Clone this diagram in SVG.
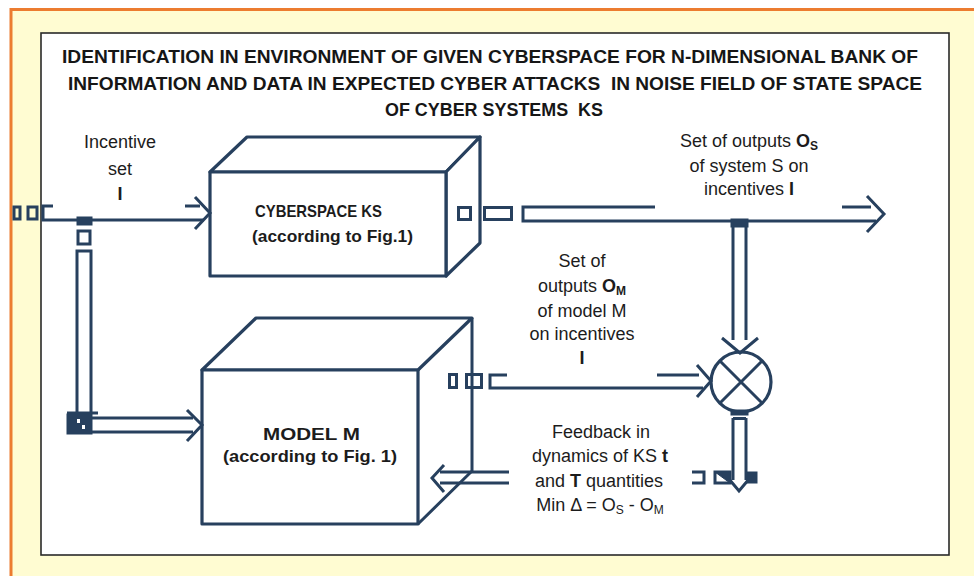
<svg xmlns="http://www.w3.org/2000/svg" width="974" height="576" viewBox="0 0 974 576">
<style>
.s{fill:none;stroke:#27405E;stroke-width:3;stroke-linejoin:miter}
.f{fill:#27405E;stroke:#27405E;stroke-width:1}
.box{fill:#fff;stroke:#27405E;stroke-width:3.2;stroke-linejoin:round}
.t{font-family:"Liberation Sans",Arial,sans-serif;font-size:18px;fill:#1c1c1c}
.b{font-weight:bold}
.c{text-anchor:middle}
.ttl{font-family:"Liberation Sans",Arial,sans-serif;font-size:18px;font-weight:bold;fill:#161616;text-anchor:middle}
.bl{font-family:"Liberation Sans",Arial,sans-serif;font-size:17px;font-weight:bold;fill:#1c1c1c}
</style>
<rect x="0" y="0" width="974" height="576" fill="#fff"/>
<rect x="11" y="9.5" width="990" height="600" fill="#FFFCD2" stroke="#EC7C30" stroke-width="3"/>
<rect x="41" y="33" width="908" height="522" fill="#fff" stroke="#2a2a2a" stroke-width="1.6"/>

<g id="title">
<text class="ttl" x="490" y="63" textLength="856" lengthAdjust="spacingAndGlyphs">IDENTIFICATION IN ENVIRONMENT OF GIVEN CYBERSPACE FOR N-DIMENSIONAL BANK OF</text>
<text class="ttl" x="495" y="90" textLength="854" lengthAdjust="spacingAndGlyphs">INFORMATION AND DATA IN EXPECTED CYBER ATTACKS&#160; IN NOISE FIELD OF STATE SPACE</text>
<text class="ttl" x="494" y="116" textLength="218" lengthAdjust="spacingAndGlyphs">OF CYBER SYSTEMS&#160; KS</text>
</g>

<g id="cyberspace">
<path class="box" d="M210,172 L247,137 L480,137 L446,172 Z"/>
<path class="box" d="M446,172 L480,137 L480,243 L446,276 Z"/>
<rect class="box" x="210" y="172" width="236" height="104"/>
<text class="bl" x="255" y="217" textLength="127" lengthAdjust="spacingAndGlyphs">CYBERSPACE KS</text>
<text class="bl" x="252" y="242" textLength="161" lengthAdjust="spacingAndGlyphs">(according to Fig.1)</text>
</g>

<g id="model">
<path class="box" d="M202,370 L256,318 L472,318 L418,370 Z"/>
<rect class="box" x="202" y="370" width="216" height="154"/>
<text class="bl" x="263" y="440" textLength="97" lengthAdjust="spacingAndGlyphs">MODEL M</text>
<text class="bl" x="223" y="462" textLength="174" lengthAdjust="spacingAndGlyphs">(according to Fig. 1)</text>
</g>

<g id="comparator">
<circle cx="741" cy="382" r="30" fill="#fff" stroke="#27405E" stroke-width="3.2"/>
<path class="s" d="M720,361 L762,403 M762,361 L720,403"/>
</g>

<g id="connectors">
<!-- input incentive arrow -->
<rect class="s" x="14" y="207" width="6" height="12"/>
<rect class="s" x="28" y="207" width="9" height="12"/>
<path class="s" d="M53,206 H43 V220 H204"/>
<path class="s" d="M185,206 H200"/>
<path class="s" d="M195,197 L210,213 L195,229"/>
<!-- branch down to model -->
<rect class="f" x="77" y="217" width="15" height="8"/>
<rect class="s" x="78" y="231" width="12" height="13"/>
<path class="s" d="M77,413 V251 H91 V413"/>
<path class="s" d="M67,413 H98"/>
<rect class="f" x="67" y="414" width="25" height="20"/>
<rect x="77" y="419" width="3" height="4" fill="#fff"/>
<rect x="82" y="425" width="3" height="4" fill="#fff"/>
<path class="s" d="M92,418 H193 M92,432 H193"/>
<path class="s" d="M187,410 L202,425 L187,441"/>
<!-- output of cyberspace -->
<rect class="s" x="458.5" y="207.5" width="12" height="12"/>
<rect class="s" x="484.5" y="207.5" width="27" height="12"/>
<path class="s" d="M655,207 H523 V221 H876"/>
<path class="s" d="M842,207 H871"/>
<path class="s" d="M867,196 L884,214 L867,232"/>
<!-- down to comparator -->
<rect class="f" x="731" y="219" width="17" height="8"/>
<path class="s" d="M733,227 V340 M746,227 V340"/>
<path class="s" d="M722,338 L740,353 L758,338"/>
<!-- model output to comparator -->
<rect class="s" x="449.5" y="374.5" width="7" height="13"/>
<rect class="s" x="466.5" y="374.5" width="15" height="13"/>
<path class="s" d="M472,318 V472 M418,524 L472,471"/>
<path class="s" d="M507,375 H490 V388 H703"/>
<path class="s" d="M657,375 H699"/>
<path class="s" d="M697,365 L711,381 L697,397"/>
<!-- comparator output down -->
<rect class="f" x="731" y="410" width="17" height="5"/>
<path class="s" d="M733,418.5 H746"/>
<path class="s" d="M733,418 V480 M746,418 V480"/>
<path class="s" d="M692,472 H704 V483 H692"/>
<rect class="s" x="715" y="472" width="15" height="11"/>
<path class="f" d="M715,472 L730,483 L730,472 Z"/>
<path class="s" d="M729,479 L739,491 L749,479"/>
<rect class="f" x="747" y="472" width="10" height="11"/>
<!-- feedback to model -->
<path class="s" d="M509,472 H440 M509,483 H440"/>
<path class="s" d="M444,465 L432,478 L444,492"/>
</g>

<g id="label-input">
<text class="t c" x="120" y="148">Incentive</text>
<text class="t c" x="120" y="175">set</text>
<text class="t c b" x="120" y="200">I</text>
</g>

<g id="label-os">
<text class="t c" x="749" y="147">Set of outputs <tspan class="b">O</tspan><tspan class="b" font-size="12" dy="3">S</tspan></text>
<text class="t c" x="749" y="172">of system S on</text>
<text class="t c" x="749" y="195">incentives <tspan class="b">I</tspan></text>
</g>

<g id="label-om">
<text class="t c" x="582" y="267">Set of</text>
<text class="t c" x="582" y="292">outputs <tspan class="b">O</tspan><tspan class="b" font-size="12" dy="3">M</tspan></text>
<text class="t c" x="582" y="317">of model M</text>
<text class="t c" x="582" y="340">on incentives</text>
<text class="t c b" x="582" y="364">I</text>
</g>

<g id="label-feedback">
<text class="t c" x="601" y="438">Feedback in</text>
<text class="t c" x="600" y="462">dynamics of KS <tspan class="b">t</tspan></text>
<text class="t c" x="599" y="487">and <tspan class="b">T</tspan> quantities</text>
<text class="t c" x="600" y="511">Min Δ = O<tspan font-size="12" dy="3">S</tspan><tspan dy="-3"> - O</tspan><tspan font-size="12" dy="3">M</tspan></text>
</g>
</svg>
